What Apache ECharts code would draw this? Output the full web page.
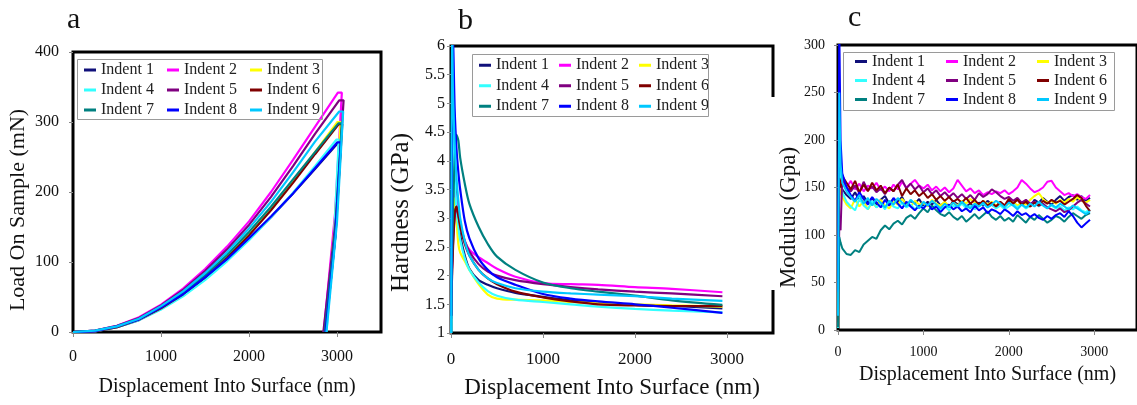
<!DOCTYPE html>
<html>
<head>
<meta charset="utf-8">
<script src="https://cdn.jsdelivr.net/npm/echarts@6/dist/echarts.min.js"></script>
<style>
  html, body { margin: 0; padding: 0; background: #fff; }
  #main { width: 1137px; height: 405px; }
</style>
</head>
<body>
<div id="main"></div>
<script>
// series names + colours (same for all three panels)
var indentNames = ['Indent 1', 'Indent 2', 'Indent 3', 'Indent 4', 'Indent 5', 'Indent 6', 'Indent 7', 'Indent 8', 'Indent 9'];
var indentColors = ['#10107a', '#ff00ff', '#ffff00', '#33ffff', '#800080', '#800000', '#008080', '#0000ff', '#00c8ff'];

// ---- panel a: load vs displacement ----
var loadX = [0, 250, 500, 750, 1000, 1250, 1500, 1750, 2000, 2250, 2500, 2750];
var loadY = [
  [0, 1, 7, 17, 33, 52, 76, 103, 133, 164, 198, 233],
  [0, 2, 9, 21, 39, 62, 90, 122, 158, 200, 246, 293],
  [0, 1, 8, 18, 35, 55, 80, 108, 140, 176, 216, 257],
  [0, 1, 7, 17, 32, 51, 74, 101, 131, 164, 199, 237],
  [0, 2, 9, 20, 38, 60, 87, 118, 153, 193, 237, 283],
  [0, 1, 7, 18, 34, 54, 78, 106, 138, 174, 213, 254],
  [0, 2, 8, 19, 36, 56, 81, 110, 143, 179, 218, 257],
  [0, 1, 8, 18, 35, 54, 78, 104, 134, 165, 198, 234],
  [0, 2, 8, 19, 37, 58, 84, 114, 148, 186, 228, 272]
];
var peakLoad = [270, 342, 300, 275, 331, 297, 298, 271, 315];
var holdX = [[3010, 3045], [3010, 3055], [3005, 3040], [2995, 3020], [3025, 3075], [3020, 3060], [3015, 3055], [3005, 3045], [3025, 3070]];
var unloadPts = [
  [[2980, 135], [2870, 0]],
  [[2979, 171], [2850, 0]],
  [[2973, 150], [2860, 0]],
  [[2968, 137], [2880, 0]],
  [[2990, 165], [2845, 0]],
  [[2988, 148], [2865, 0]],
  [[2983, 149], [2860, 0]],
  [[2980, 135], [2870, 0]],
  [[3000, 157], [2880, 0]]
];

// ---- panel b: hardness ----
var hardX = [3, 10, 20, 40, 60, 80, 100, 150, 200, 300, 400, 500, 700, 1000, 1300, 1600, 2000, 2400, 2950];
var hardY = [
  [1.25, 2.0, 3.0, 3.68, 3.3, 2.95, 2.7, 2.35, 2.12, 1.92, 1.84, 1.78, 1.7, 1.63, 1.57, 1.53, 1.49, 1.47, 1.43],
  [1.5, 2.1, 2.8, 3.5, 3.3, 3.05, 2.85, 2.6, 2.45, 2.32, 2.22, 2.12, 1.98, 1.87, 1.85, 1.84, 1.8, 1.77, 1.71],
  [1.3, 2.2, 2.9, 3.35, 2.95, 2.55, 2.4, 2.25, 2.1, 1.85, 1.67, 1.6, 1.58, 1.57, 1.54, 1.52, 1.5, 1.48, 1.46],
  [1.0, 2.5, 4.6, 3.7, 3.15, 2.85, 2.62, 2.3, 2.1, 1.88, 1.73, 1.65, 1.58, 1.54, 1.5, 1.46, 1.42, 1.39, 1.36],
  [1.7, 2.1, 2.5, 3.0, 3.2, 3.05, 2.9, 2.6, 2.42, 2.2, 2.07, 2.0, 1.92, 1.85, 1.8, 1.76, 1.72, 1.69, 1.64],
  [1.3, 1.9, 2.4, 3.1, 3.2, 3.05, 2.85, 2.55, 2.35, 2.1, 1.95, 1.85, 1.72, 1.62, 1.55, 1.5, 1.48, 1.47, 1.47],
  [1.3, 2.2, 3.0, 4.0, 4.45, 4.35, 4.05, 3.6, 3.25, 2.85, 2.55, 2.33, 2.1, 1.88, 1.78, 1.72, 1.65, 1.57, 1.49],
  [1.3, 4.0, 6.3, 4.9, 4.2, 3.8, 3.5, 2.95, 2.65, 2.3, 2.1, 1.97, 1.84, 1.68, 1.6, 1.55, 1.5, 1.44, 1.35],
  [1.0, 6.8, 5.3, 4.3, 3.7, 3.3, 3.0, 2.6, 2.35, 2.1, 1.95, 1.87, 1.78, 1.72, 1.69, 1.67, 1.64, 1.6, 1.56]
];

// ---- panel c: modulus ----
var modX = [0, 15, 30, 50, 100, 150, 200, 250, 300, 350, 400, 450, 500, 550, 600, 650, 700, 750, 800, 850,
  900, 950, 1000, 1050, 1100, 1150, 1200, 1250, 1300, 1350, 1400, 1450, 1500, 1550, 1600, 1650, 1700, 1750, 1800, 1850,
  1900, 1950, 2000, 2050, 2100, 2150, 2200, 2250, 2300, 2350, 2400, 2450, 2500, 2550, 2600, 2650, 2700, 2750, 2800, 2850,
  2900, 2950];
var modY = [
  [5, 180, 160, 148, 142, 138, 145, 136, 141, 134,
   139, 132, 137, 141, 133, 138, 135, 140, 131, 136,
   133, 138, 130, 135, 132, 137, 131, 134, 129, 136,
   132, 135, 130, 133, 128, 134, 131, 136, 132, 129,
   134, 131, 136, 133, 138, 132, 135, 130, 137, 134,
   139, 135, 132, 137, 141, 136, 140, 142, 137, 141,
   136, 139],
  [10, 200, 170, 158, 150, 157, 148, 154, 146, 152,
   149, 155, 147, 151, 146, 153, 148, 156, 150, 154,
   158, 152, 149, 153, 147, 151, 146, 150, 145, 149,
   158, 152, 146, 149, 144, 147, 142, 145, 143, 146,
   144, 147, 143, 146, 150, 158, 154, 149, 145, 147,
   150, 156, 157, 150, 146, 142, 144, 141, 143, 140,
   138, 142],
  [3, 150, 145, 140, 132, 128, 138, 130, 136, 127,
   134, 129, 137, 131, 128, 135, 132, 138, 133, 130,
   136, 132, 134, 130, 137, 133, 131, 135, 130, 134,
   131, 136, 133, 138, 134, 131, 136, 132, 135, 131,
   134, 130, 133, 135, 131, 134, 132, 137, 141, 144,
   138, 134, 136, 133, 137, 134, 138, 135, 140, 136,
   134, 137],
  [2, 210, 160, 145, 135, 130, 126, 138, 131, 127,
   136, 129, 133, 127, 135, 130, 128, 134, 129, 132,
   127, 131, 129, 133, 128, 132, 127, 130, 126, 131,
   129, 133, 128, 131, 127, 130, 133, 129, 132, 128,
   131, 127, 130, 133, 129, 132, 128, 131, 134, 130,
   133, 129, 131, 128, 130, 126, 129, 127, 130, 126,
   124, 127],
  [20, 110, 105, 160, 150, 146, 152, 144, 156, 147,
   151, 145, 149, 143, 150, 146, 153, 158, 149, 154,
   148, 152, 145, 149, 143, 147, 141, 145, 140, 144,
   139, 143, 138, 142, 137, 144, 140, 143, 148, 145,
   141, 138, 140, 136, 139, 134, 137, 133, 135, 131,
   133, 129, 127, 125, 128, 124, 126, 130, 134, 137,
   133, 130],
  [8, 160, 150, 162, 155, 148, 157, 145, 153, 146,
   155, 147, 152, 144, 150, 146, 153, 141, 149, 143,
   147, 141, 145, 139, 143, 137, 141, 136, 140, 135,
   138, 134, 139, 133, 137, 132, 136, 131, 134, 130,
   135, 131, 138, 133, 137, 132, 135, 130, 134, 131,
   136, 133, 137, 134, 136, 132, 135, 138, 142, 139,
   131, 125],
  [3, 98, 92, 86, 80, 79, 84, 82, 90, 94,
   98, 96, 105, 110, 106, 112, 115, 111, 118, 121,
   117, 123, 128, 124, 131, 126, 122, 120, 124, 119,
   116, 120, 114, 118, 122, 117, 121, 125, 119, 116,
   120, 115, 118, 114, 121, 117, 113, 119, 116, 121,
   117, 113, 116, 120, 118, 114, 119, 123, 120, 117,
   121, 123],
  [40, 320, 200, 165, 150, 142, 136, 145, 138, 132,
   140, 134, 129, 137, 131, 139, 133, 128, 135, 130,
   126, 131, 128, 133, 127, 130, 124, 129, 132, 127,
   130, 125, 128, 124, 131, 126, 129, 123, 127, 125,
   122, 127, 124, 120, 125, 121, 123, 119, 122, 118,
   116, 120, 117, 121, 123, 119, 125, 120, 113, 108,
   112, 116],
  [15, 250, 175, 155, 146, 140, 135, 142, 133, 139,
   131, 138, 134, 129, 136, 132, 139, 134, 130, 137,
   133, 128, 135, 131, 136, 132, 128, 133, 129, 134,
   130, 135, 131, 128, 133, 130, 134, 129, 132, 136,
   133, 129, 134, 131, 127, 132, 129, 133, 130, 135,
   131, 128, 132, 129, 133, 130, 127, 131, 128, 125,
   122, 125]
];

var FONT = 'Liberation Serif';
var chart = echarts.init(document.getElementById('main'));

function plainNum(v) { return String(v); }

function xAxisFor(gi, fontSize, labelMargin, nameSize, nameGap) {
  return {
    type: 'value', gridIndex: gi, min: 0, max: 3500, interval: 1000,
    name: 'Displacement Into Surface (nm)', nameLocation: 'middle', nameGap: nameGap,
    nameTextStyle: { fontFamily: FONT, fontSize: nameSize, color: '#111' },
    axisLine: { show: false },
    axisTick: { show: true, length: 5, lineStyle: { color: '#888' } },
    axisLabel: { fontFamily: FONT, fontSize: fontSize, color: '#111', margin: labelMargin, showMaxLabel: false, formatter: plainNum },
    splitLine: { show: false }
  };
}
function yAxisFor(gi, min, max, interval, name, fontSize, labelMargin, nameSize, nameGap, shiftDown) {
  return {
    type: 'value', gridIndex: gi, min: min, max: max, interval: interval,
    name: name, nameLocation: 'middle', nameGap: nameGap,
    nameTextStyle: { fontFamily: FONT, fontSize: nameSize, color: '#111', padding: [0, shiftDown * 2, 0, 0] },
    axisLine: { show: false },
    axisTick: { show: true, length: 4, lineStyle: { color: '#888' } },
    axisLabel: { fontFamily: FONT, fontSize: fontSize, color: '#111', margin: labelMargin, formatter: plainNum },
    splitLine: { show: false }
  };
}
function legendFor(left, top, textWidth, lineHeight) {
  return {
    data: indentNames, left: left, top: top, width: 3 * (17 + textWidth) + 4,
    orient: 'horizontal', itemGap: 0, itemWidth: 12, itemHeight: 3, icon: 'rect',
    selectedMode: false, padding: 0,
    textStyle: { fontFamily: FONT, fontSize: 16, color: '#222', width: textWidth, lineHeight: lineHeight }
  };
}

var series = [];
indentNames.forEach(function (name, i) {
  var pts = loadX.map(function (x, k) { return [x, loadY[i][k]]; });
  pts.push([holdX[i][0], peakLoad[i]], [holdX[i][1], peakLoad[i]]);
  unloadPts[i].forEach(function (p) { pts.push(p); });
  series.push({ name: name, type: 'line', xAxisIndex: 0, yAxisIndex: 0, data: pts,
    showSymbol: false, lineStyle: { width: 2.2, color: indentColors[i] }, itemStyle: { color: indentColors[i] } });
});
indentNames.forEach(function (name, i) {
  series.push({ name: name, type: 'line', xAxisIndex: 1, yAxisIndex: 1,
    data: hardX.map(function (x, k) { return [x, hardY[i][k]]; }),
    showSymbol: false, smooth: 0.3, lineStyle: { width: 2.2, color: indentColors[i] }, itemStyle: { color: indentColors[i] } });
});
indentNames.forEach(function (name, i) {
  series.push({ name: name, type: 'line', xAxisIndex: 2, yAxisIndex: 2,
    data: modX.map(function (x, k) { return [x, modY[i][k]]; }),
    showSymbol: false, lineStyle: { width: 2, color: indentColors[i] }, itemStyle: { color: indentColors[i] } });
});

var titleText = { fontFamily: FONT, fontSize: 30, fontWeight: 'normal', color: '#111' };
var option = {
  backgroundColor: '#ffffff',
  animation: false,
  title: [
    { text: 'a', left: 67, top: 5, padding: 0, textStyle: titleText },
    { text: 'b', left: 458, top: 6, padding: 0, textStyle: titleText },
    { text: 'c', left: 848, top: 3, padding: 0, textStyle: titleText }
  ],
  grid: [
    { left: 73, top: 52, width: 308, height: 280, show: true, borderColor: '#000', borderWidth: 3 },
    { left: 451, top: 46, width: 322, height: 287, show: true, borderColor: '#000', borderWidth: 3 },
    { left: 838, top: 45, width: 305, height: 285, show: true, borderColor: '#000', borderWidth: 3 }
  ],
  xAxis: [
    xAxisFor(0, 16, 17, 20, 45),
    xAxisFor(1, 17, 18, 23, 43),
    xAxisFor(2, 14, 15, 20, 35)
  ],
  yAxis: [
    yAxisFor(0, 0, 400, 100, 'Load On Sample (mN)', 16, 14, 22, 44, 18),
    yAxisFor(1, 1, 6, 0.5, 'Hardness (GPa)', 16, 6, 25, 37, 23),
    yAxisFor(2, 0, 300, 50, 'Modulus (Gpa)', 14, 13, 23, 38, 30)
  ],
  legend: [
    legendFor(84, 60, 66, 20),
    legendFor(479, 55, 63, 20.5),
    legendFor(855, 52, 74, 19)
  ],
  graphic: [
    { type: 'rect', z: 100, shape: { x: 77.5, y: 59.5, width: 245, height: 60 }, style: { fill: null, stroke: '#9a9a9a', lineWidth: 1 } },
    { type: 'rect', z: 100, shape: { x: 472.5, y: 54.5, width: 236, height: 62 }, style: { fill: null, stroke: '#9a9a9a', lineWidth: 1 } },
    { type: 'rect', z: 100, shape: { x: 843.5, y: 52.5, width: 271, height: 58 }, style: { fill: null, stroke: '#9a9a9a', lineWidth: 1 } },
    // white patch behind the "Modulus" label hides part of panel b's right frame
    { type: 'rect', z: 100, shape: { x: 766, y: 97, width: 10, height: 193 }, style: { fill: '#fff' } }
  ],
  series: series
};
chart.setOption(option);
</script>
</body>
</html>
